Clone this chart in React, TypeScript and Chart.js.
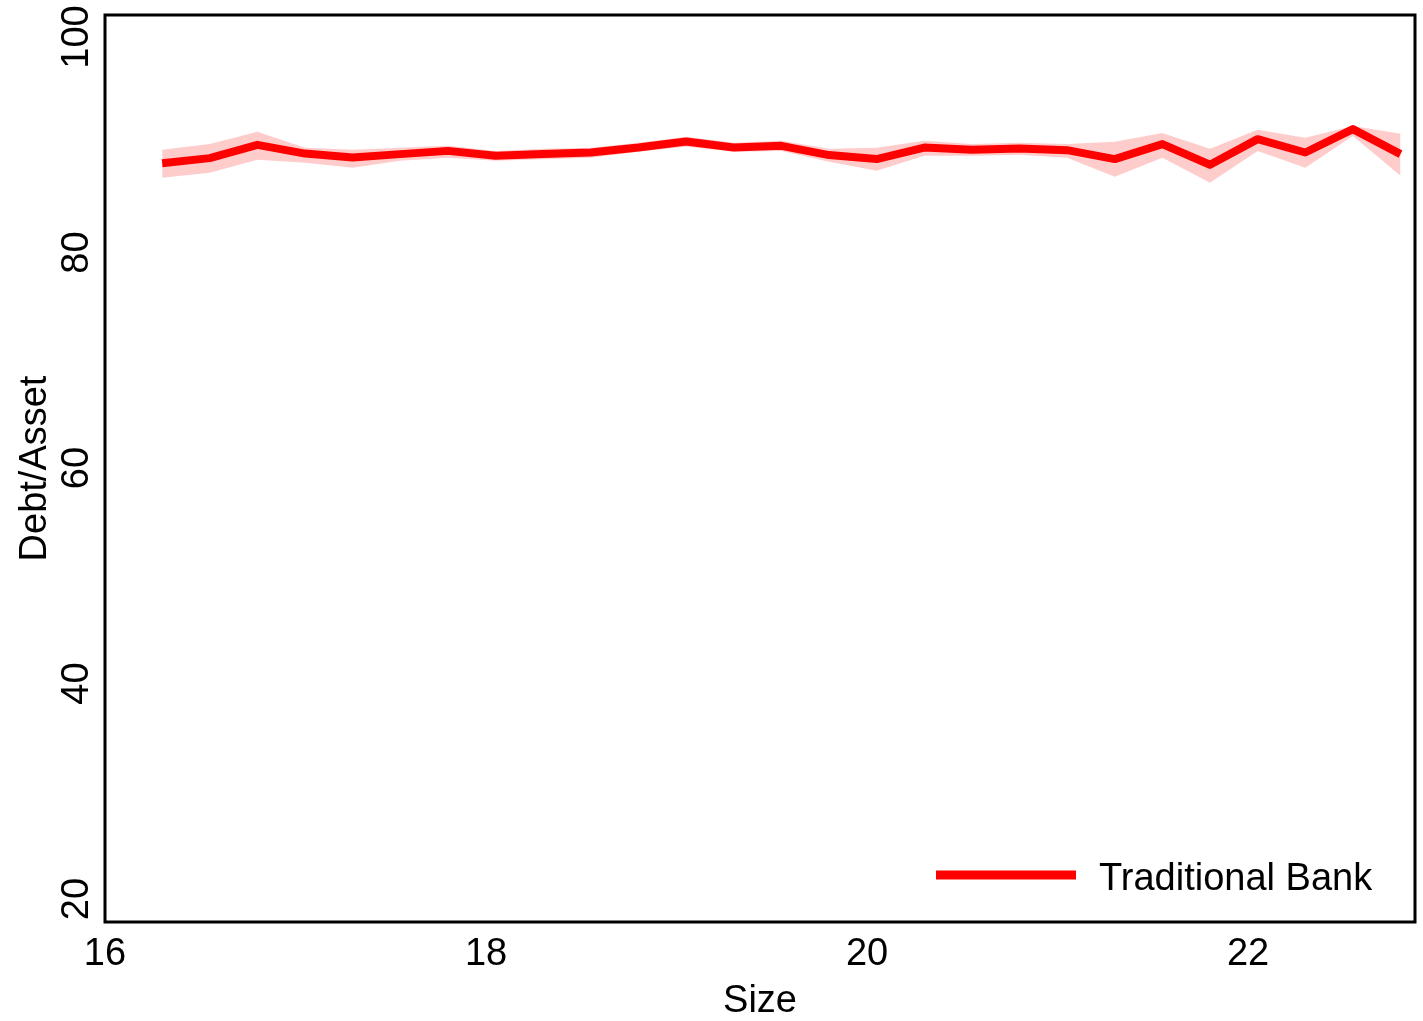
import React, { useEffect, useRef } from "react";
import { Chart, registerables } from "chart.js";

Chart.register(...registerables);

// Size bins (log of total assets)
const sizeBins: number[] = [
  16.3, 16.55, 16.8, 17.05, 17.3, 17.55, 17.8, 18.05, 18.3, 18.55, 18.8, 19.05, 19.3, 19.55,
  19.8, 20.05, 20.3, 20.55, 20.8, 21.05, 21.3, 21.55, 21.8, 22.05, 22.3, 22.55, 22.8,
];

// Mean debt-to-asset ratio per bin
const debtAssetMean: number[] = [
  88.29, 88.76, 89.99, 89.18, 88.81, 89.13, 89.43, 88.97, 89.13, 89.28, 89.74, 90.3, 89.74, 89.9,
  89.04, 88.67, 89.74, 89.53, 89.65, 89.5, 88.67, 90.06, 88.14, 90.52, 89.28, 91.45, 89.13,
];

// Upper bound of the confidence band
const debtAssetUpper: number[] = [
  89.53, 90.08, 91.2, 89.71, 89.53, 89.71, 89.9, 89.43, 89.62, 89.71, 90.18, 90.73, 90.18, 90.36,
  89.62, 89.71, 90.36, 90.08, 90.18, 90.08, 90.27, 91.1, 89.62, 91.38, 90.64, 91.75, 91.01,
];

// Lower bound of the confidence band
const debtAssetLower: number[] = [
  86.93, 87.4, 88.6, 88.32, 87.86, 88.51, 88.79, 88.51, 88.65, 88.79, 89.34, 89.81, 89.34, 89.43,
  88.42, 87.58, 88.97, 88.97, 89.06, 88.79, 87.03, 88.79, 86.47, 89.43, 87.86, 90.82, 87.12,
];

const xTicks: number[] = [16, 18, 20, 22];
const yTicks: number[] = [20, 40, 60, 80, 100];

const seriesLabel = "Traditional Bank";
const xTitle = "Size";
const yTitle = "Debt/Asset";

const FONT = "'Liberation Sans', Arial, Helvetica, sans-serif";
const FONT_SIZE = 38;
const RED = "#FF0000";
const BAND = "rgba(255, 0, 0, 0.2)";

const toPoints = (ys: number[]) => sizeBins.map((x, i) => ({ x, y: ys[i] }));

// Black box around the plotting region
const framePlugin = {
  id: "plotFrame",
  afterDatasetsDraw(chart: any) {
    const { ctx, chartArea } = chart;
    ctx.save();
    ctx.strokeStyle = "#000000";
    ctx.lineWidth = 3;
    ctx.strokeRect(
      chartArea.left,
      chartArea.top,
      chartArea.right - chartArea.left,
      chartArea.bottom - chartArea.top
    );
    ctx.restore();
  },
};

// Key placed in the lower right corner of the plot
const cornerLegendPlugin = {
  id: "cornerLegend",
  afterDraw(chart: any) {
    const { ctx, chartArea } = chart;
    const ds = chart.data.datasets.find((d: any) => d.label === seriesLabel);
    if (!ds) return;
    const y = chartArea.bottom - 47;
    ctx.save();
    ctx.strokeStyle = ds.borderColor;
    ctx.lineWidth = 9;
    ctx.lineCap = "butt";
    ctx.beginPath();
    ctx.moveTo(chartArea.right - 479, y);
    ctx.lineTo(chartArea.right - 339, y);
    ctx.stroke();
    ctx.fillStyle = "#000000";
    ctx.font = `${FONT_SIZE}px ${FONT}`;
    ctx.textAlign = "left";
    ctx.textBaseline = "alphabetic";
    ctx.fillText(ds.label, chartArea.right - 316, chartArea.bottom - 32);
    ctx.restore();
  },
};

export default function App() {
  const canvasRef = useRef<HTMLCanvasElement | null>(null);

  useEffect(() => {
    if (!canvasRef.current) return;
    const chart = new Chart(canvasRef.current, {
      type: "line",
      data: {
        datasets: [
          {
            label: "upper",
            data: toPoints(debtAssetUpper),
            borderWidth: 0,
            borderColor: "rgba(0,0,0,0)",
            pointRadius: 0,
            fill: false,
          },
          {
            label: "lower",
            data: toPoints(debtAssetLower),
            borderWidth: 0,
            borderColor: "rgba(0,0,0,0)",
            backgroundColor: BAND,
            pointRadius: 0,
            fill: "-1",
          },
          {
            label: seriesLabel,
            data: toPoints(debtAssetMean),
            borderColor: RED,
            borderWidth: 8,
            borderJoinStyle: "round",
            borderCapStyle: "butt",
            pointRadius: 0,
            fill: false,
            tension: 0,
          },
        ],
      },
      options: {
        animation: false,
        responsive: false,
        events: [],
        layout: { padding: { top: 14, right: 8, left: 0, bottom: 0 } },
        plugins: {
          legend: { display: false },
          tooltip: { enabled: false },
        },
        scales: {
          x: {
            type: "linear",
            position: "bottom",
            min: 16,
            max: 22.876,
            grid: { display: false, drawTicks: false },
            border: { display: false },
            afterBuildTicks: (scale: any) => {
              scale.ticks = xTicks.map((v) => ({ value: v }));
            },
            afterFit: (scale: any) => {
              scale.height = 99;
            },
            ticks: {
              autoSkip: false,
              maxRotation: 0,
              minRotation: 0,
              padding: 14,
              color: "#000000",
              font: { family: FONT, size: FONT_SIZE, lineHeight: 1 },
            },
            title: {
              display: true,
              text: xTitle,
              color: "#000000",
              font: { family: FONT, size: FONT_SIZE, lineHeight: 1 },
              padding: { top: 0, bottom: 0 },
            },
          },
          y: {
            type: "linear",
            position: "left",
            min: 17.87,
            max: 102.04,
            grid: { display: false, drawTicks: false },
            border: { display: false },
            afterBuildTicks: (scale: any) => {
              scale.ticks = yTicks.map((v) => ({ value: v }));
            },
            afterFit: (scale: any) => {
              scale.width = 105;
            },
            ticks: {
              autoSkip: false,
              minRotation: 90,
              maxRotation: 90,
              crossAlign: "center",
              padding: -4,
              color: "#000000",
              font: { family: FONT, size: FONT_SIZE, lineHeight: 1 },
            },
            title: {
              display: true,
              text: yTitle,
              color: "#000000",
              font: { family: FONT, size: FONT_SIZE, lineHeight: 1 },
              padding: { top: 17, bottom: 0 },
            },
          },
        },
      },
      plugins: [framePlugin, cornerLegendPlugin],
    } as any);
    return () => chart.destroy();
  }, []);

  return (
    <div style={{ position: "fixed", left: 0, top: 0, width: 1423, height: 1021, background: "#ffffff" }}>
      <canvas ref={canvasRef} width={1423} height={1021} style={{ display: "block" }} />
    </div>
  );
}
